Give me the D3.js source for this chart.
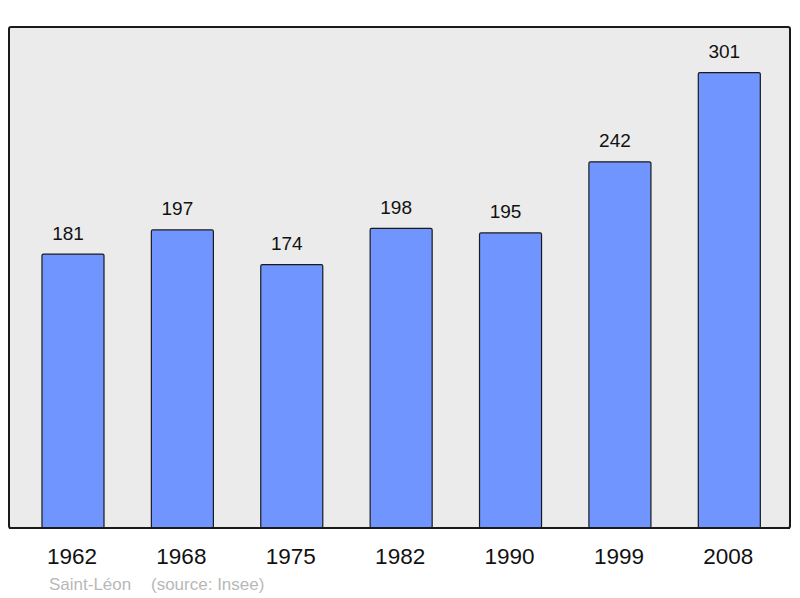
<!DOCTYPE html>
<html>
<head>
<meta charset="utf-8">
<script src="https://cdn.jsdelivr.net/npm/d3@7"></script>
<style>
  body { margin: 0; background: #fff; }
  svg text { font-family: "Liberation Sans", Arial, sans-serif; }
</style>
</head>
<body>
<script>
const years = ["1962", "1968", "1975", "1982", "1990", "1999", "2008"];
const population = [181, 197, 174, 198, 195, 242, 301];
const commune = "Saint-Léon";
const source = "(source: Insee)";

const width = 800, height = 598;
const frame = { left: 9, top: 27, right: 790, bottom: 528 };

const svg = d3.select("body").append("svg")
  .attr("width", width)
  .attr("height", height);

// grey plotting area
svg.append("rect")
  .attr("x", frame.left)
  .attr("y", frame.top)
  .attr("width", frame.right - frame.left)
  .attr("height", frame.bottom - frame.top)
  .attr("rx", 2)
  .attr("fill", "#ebebeb")
  .attr("stroke", "#1a1a1a")
  .attr("stroke-width", 2);

const x = d3.scaleBand()
  .domain(years)
  .range([18.3, 784])
  .paddingInner(0.433)
  .paddingOuter(0.2165);

const y = d3.scaleLinear()
  .domain([0, d3.max(population) * 1.1])
  .range([frame.bottom, frame.top]);

const data = years.map((yr, i) => ({ year: yr, value: population[i] }));

svg.selectAll("rect.bar")
  .data(data)
  .enter()
  .append("rect")
  .attr("class", "bar")
  .attr("x", d => x(d.year))
  .attr("y", d => y(d.value))
  .attr("width", x.bandwidth())
  .attr("height", d => y(0) - y(d.value))
  .attr("rx", 1.5)
  .attr("fill", "#7095ff")
  .attr("stroke", "#1a1a1a")
  .attr("stroke-width", 1.2);

// redraw the bottom edge of the frame over the bars
svg.append("line")
  .attr("x1", frame.left).attr("x2", frame.right)
  .attr("y1", frame.bottom).attr("y2", frame.bottom)
  .attr("stroke", "#1a1a1a")
  .attr("stroke-width", 2);

// value labels sit a little left of the bar centre
svg.selectAll("text.value")
  .data(data)
  .enter()
  .append("text")
  .attr("class", "value")
  .attr("x", d => x(d.year) + x.bandwidth() / 2 - 5)
  .attr("y", d => y(d.value) - 14.5)
  .attr("text-anchor", "middle")
  .attr("font-size", "19px")
  .attr("fill", "#111")
  .text(d => d.value);

// x axis labels
const xAxis = d3.axisBottom(x).tickSize(0).tickPadding(0);
const gx = svg.append("g")
  .attr("transform", "translate(0," + frame.bottom + ")")
  .call(xAxis);
gx.select(".domain").remove();
gx.selectAll("text")
  .attr("dy", null)
  .attr("y", 36)
  .attr("x", -1)
  .attr("font-size", "22.5px")
  .attr("font-family", "Liberation Sans, Arial, sans-serif")
  .attr("fill", "#111");

svg.append("text")
  .attr("x", 49)
  .attr("y", 590)
  .attr("font-size", "17px")
  .attr("fill", "#b8b8b8")
  .text(commune);

svg.append("text")
  .attr("x", 151)
  .attr("y", 590)
  .attr("font-size", "17px")
  .attr("fill", "#b8b8b8")
  .text(source);
</script>
</body>
</html>
